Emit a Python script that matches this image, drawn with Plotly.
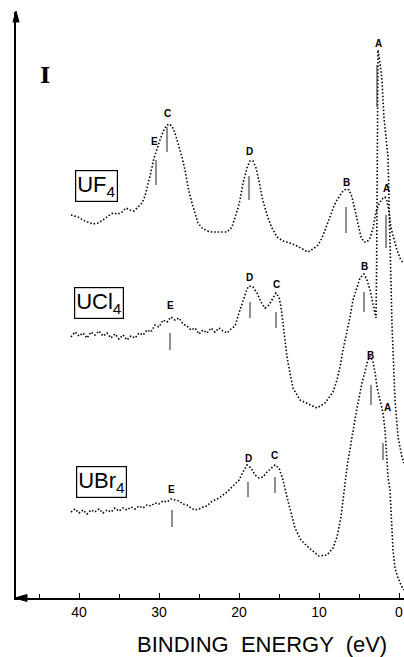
import plotly.graph_objects as go

# binding energy (eV) and stacked intensity (arb. units)
UF4_E = [41.0, 40.125, 39.25, 38.25, 37.625, 37.0, 36.375, 35.75, 35.125, 34.625,
         34.125, 33.625, 33.125, 32.625, 32.125, 31.75, 31.375, 31.0, 30.625, 30.25,
         29.875, 29.5, 29.125, 28.75, 28.375, 28.0, 27.625, 27.125, 26.75, 26.375,
         25.875, 25.5, 25.125, 24.625, 24.0, 23.375, 22.75, 22.125, 21.5, 20.875,
         20.5, 20.125, 19.875, 19.5, 19.0, 18.625, 18.25, 17.875, 17.5, 17.125,
         16.75, 16.375, 15.875, 15.25, 14.5, 13.625, 12.75, 12.0, 11.375, 10.75,
         10.125, 9.625, 9.25, 8.875, 8.5, 8.125, 7.75, 7.375, 7.0, 6.625,
         6.25, 5.875, 5.5, 5.125, 4.75, 4.375, 4.0, 3.625, 3.25, 2.875,
         2.5, 2.125, 1.75, 1.5, 1.25, 1.0, 0.625, 0.25, -0.125, -0.5]
UF4_I = [383, 381, 377, 374, 375, 378, 382, 385, 384, 386,
         390, 388, 387, 391, 395, 402, 413, 426, 440, 450,
         458, 466, 472, 474, 472, 465, 455, 441, 428, 411,
         395, 385, 375, 370, 367, 366, 366, 366, 366, 371,
         380, 390, 398, 415, 430, 437, 437, 430, 417, 401,
         390, 380, 370, 361, 357, 355, 352, 349, 346, 349,
         353, 360, 368, 376, 385, 392, 398, 403, 407, 409,
         408, 401, 388, 373, 361, 356, 356, 360, 370, 386,
         394, 399, 401, 397, 386, 370, 358, 348, 340, 335]

UCL4_E = [41.0, 40.5, 40.0, 39.5, 39.0, 38.5, 38.0, 37.5, 37.0, 36.5,
          36.0, 35.5, 35.0, 34.5, 34.0, 33.5, 33.0, 32.5, 32.0, 31.5,
          31.0, 30.5, 30.0, 29.5, 29.0, 28.5, 28.0, 27.5, 27.0, 26.5,
          26.0, 25.5, 25.0, 24.5, 24.0, 23.5, 23.0, 22.5, 22.0, 21.5,
          21.0, 20.5, 20.0, 19.5, 19.0, 18.75, 18.25, 17.75, 17.25, 16.75,
          16.25, 15.75, 15.375, 15.0, 14.75, 14.5, 14.25, 14.0, 13.625, 13.25,
          12.375, 11.5, 10.25, 9.25, 8.25, 7.75, 7.375, 7.0, 6.5, 6.125,
          5.75, 5.25, 4.875, 4.375, 4.0, 3.625, 3.25, 2.875, 2.8, 2.75,
          2.7, 2.625, 2.375, 2.125, 1.875, 1.625, 1.375, 1.25, 1.125, 1.0,
          0.95, 0.875, 0.75, 0.625, 0.5, 0.125, -0.375, -0.625]
UCL4_I = [261, 266, 262, 265, 260, 266, 263, 267, 262, 265,
          260, 264, 259, 263, 258, 262, 260, 265, 263, 268,
          266, 273, 271, 278, 276, 281, 278, 280, 274, 272,
          268, 270, 264, 268, 265, 270, 266, 270, 267, 265,
          269, 272, 285, 298, 309, 312, 311, 305, 296, 290,
          293, 300, 305, 301, 291, 275, 258, 241, 225, 210,
          198, 195, 190, 195, 206, 218, 231, 248, 265, 281,
          298, 311, 320, 324, 318, 308, 295, 280, 330, 420,
          500, 548, 535, 518, 480, 460, 441, 398, 365, 326,
          298, 273, 253, 228, 198, 161, 141, 135]

UBR4_E = [41.0, 40.5, 40.0, 39.5, 39.0, 38.5, 38.0, 37.5, 37.0, 36.5,
          36.0, 35.5, 35.0, 34.5, 34.0, 33.5, 33.0, 32.5, 32.0, 31.5,
          31.0, 30.5, 30.0, 29.5, 29.0, 28.5, 28.0, 27.5, 27.0, 26.5,
          26.0, 25.5, 25.0, 24.5, 24.0, 23.5, 23.0, 22.5, 22.0, 21.5,
          21.0, 20.5, 20.0, 19.5, 19.0, 18.5, 18.0, 17.5, 17.0, 16.5,
          16.0, 15.5, 15.0, 14.5, 14.0, 13.5, 13.0, 12.25, 11.25, 10.0,
          9.0, 8.25, 7.75, 7.25, 6.875, 6.5, 6.0, 5.625, 5.25, 4.625,
          4.25, 3.875, 3.625, 3.25, 3.0, 2.75, 2.375, 2.0, 1.75, 1.5,
          1.375, 1.125, 1.0, 0.875, 0.75, 0.5, 0.125, -0.375, -0.625]
UBR4_I = [86, 89, 85, 88, 84, 88, 86, 89, 85, 88,
          86, 90, 87, 90, 88, 91, 89, 92, 90, 93,
          92, 95, 94, 97, 96, 99, 98, 97, 94, 93,
          90, 88, 89, 91, 92, 96, 98, 100, 103, 106,
          110, 114, 118, 126, 133, 130, 123, 120, 121, 126,
          130, 133, 130, 118, 101, 85, 70, 58, 50, 42,
          43, 50, 61, 81, 105, 131, 155, 175, 190, 215,
          226, 238, 242, 236, 226, 211, 198, 185, 168, 141,
          121, 108, 88, 65, 48, 30, 20, 11, 8]

# peak assignments: letter, tick energy, tick bottom/top, label height
UF4_PEAKS = ["E", "C", "D", "B", "A"]
UF4_PEAK_E = [30.375, 29.0, 18.75, 6.625, 1.625]
UF4_TICK_LO = [413, 446, 398, 365, 350]
UF4_TICK_HI = [438, 471, 422, 391, 383]
UF4_LABEL_E = [30.625, 29.0, 18.75, 6.625, 1.625]
UF4_LABEL_H = [457, 485, 447, 416, 410]

UCL4_PEAKS = ["E", "D", "C", "B", "A"]
UCL4_PEAK_E = [28.625, 18.625, 15.375, 4.375, 2.75]
UCL4_TICK_LO = [248, 280, 270, 286, 491]
UCL4_TICK_HI = [265, 296, 286, 306, 533]
UCL4_LABEL_E = [28.625, 18.75, 15.375, 4.375, 2.625]
UCL4_LABEL_H = [293, 321, 314, 332, 555]

UBR4_PEAKS = ["E", "D", "C", "B", "A"]
UBR4_PEAK_E = [28.375, 18.875, 15.5, 3.5, 2.0]
UBR4_TICK_LO = [71, 101, 105, 193, 138]
UBR4_TICK_HI = [88, 116, 121, 213, 155]
UBR4_LABEL_E = [28.5, 18.875, 15.625, 3.625, 1.5]
UBR4_LABEL_H = [109, 140, 143, 243, 191]

SAMPLES = ["UF<sub>4</sub>", "UCl<sub>4</sub>", "UBr<sub>4</sub>"]
SAMPLE_E = [37.875, 37.5, 37.25]
SAMPLE_H = [412, 295, 116]

XTICKS = [0, 10, 20, 30, 40]

FONT = "Liberation Sans"

fig = go.Figure()

spectra = [
    (UF4_E, UF4_I, UF4_PEAKS, UF4_PEAK_E, UF4_TICK_LO, UF4_TICK_HI, UF4_LABEL_E, UF4_LABEL_H),
    (UCL4_E, UCL4_I, UCL4_PEAKS, UCL4_PEAK_E, UCL4_TICK_LO, UCL4_TICK_HI, UCL4_LABEL_E, UCL4_LABEL_H),
    (UBR4_E, UBR4_I, UBR4_PEAKS, UBR4_PEAK_E, UBR4_TICK_LO, UBR4_TICK_HI, UBR4_LABEL_E, UBR4_LABEL_H),
]

for e, inten, peaks, pe, lo, hi, le, lh in spectra:
    fig.add_trace(go.Scatter(x=e, y=inten, mode="lines",
                             line=dict(color="black", width=1.6, dash="1.5px,2px"),
                             hoverinfo="skip"))
    tx, ty = [], []
    for x0, a, b in zip(pe, lo, hi):
        tx += [x0, x0, None]
        ty += [a, b, None]
    fig.add_trace(go.Scatter(x=tx, y=ty, mode="lines",
                             line=dict(color="#444", width=1.2), hoverinfo="skip"))
    for name, x0, y0 in zip(peaks, le, lh):
        fig.add_annotation(x=x0, y=y0, text=f"<b>{name}</b>", showarrow=False,
                           xanchor="center", yanchor="middle",
                           font=dict(family=FONT, size=10, color="black"))

for name, x0, y0 in zip(SAMPLES, SAMPLE_E, SAMPLE_H):
    fig.add_annotation(x=x0, y=y0, text=name, showarrow=False,
                       xanchor="center", yanchor="middle",
                       font=dict(family=FONT, size=22, color="black"),
                       bordercolor="black", borderwidth=1.2, borderpad=1)

# axis arrowheads (pixel-sized paths anchored at the axis ends)
fig.add_shape(type="path", xref="paper", yref="paper", xsizemode="pixel", ysizemode="pixel",
              xanchor=0, yanchor=0, path="M-1,0 L11,3.5 L11,-3.5 Z",
              fillcolor="black", line=dict(color="black", width=1))
fig.add_shape(type="path", xref="paper", yref="paper", xsizemode="pixel", ysizemode="pixel",
              xanchor=0, yanchor=1, path="M0,1 L3,-10 L-3,-10 Z",
              fillcolor="black", line=dict(color="black", width=1))

# intensity scale bar
fig.add_annotation(x=0.075, y=0.893, xref="paper", yref="paper", text="<b>I</b>",
                   showarrow=False, xanchor="center", yanchor="middle",
                   font=dict(family="DejaVu Serif", size=22, color="black"))

fig.add_annotation(x=0.635, y=-0.08, xref="paper", yref="paper",
                   text="BINDING  ENERGY  (eV)", showarrow=False,
                   xanchor="center", yanchor="middle",
                   font=dict(family=FONT, size=22, color="black"))

fig.update_xaxes(range=[47.875, -0.625], showline=True, linecolor="black", linewidth=2,
                 ticks="inside", ticklen=5, tickwidth=1, tickcolor="black",
                 tickvals=XTICKS, showgrid=False, zeroline=False,
                 minor=dict(ticks="inside", ticklen=4, dtick=5, tickcolor="black"),
                 tickfont=dict(family=FONT, size=14, color="black"))
fig.update_yaxes(range=[0, 586], showline=True, linecolor="black", linewidth=1.5,
                 showticklabels=False, ticks="", showgrid=False, zeroline=False)

fig.update_layout(width=404, height=657, autosize=False, showlegend=False,
                  plot_bgcolor="white", paper_bgcolor="white",
                  margin=dict(l=16, r=0, t=12, b=59))

fig.write_html("out.html", config={"displayModeBar": False},
               post_script="document.body.style.margin='0';")
